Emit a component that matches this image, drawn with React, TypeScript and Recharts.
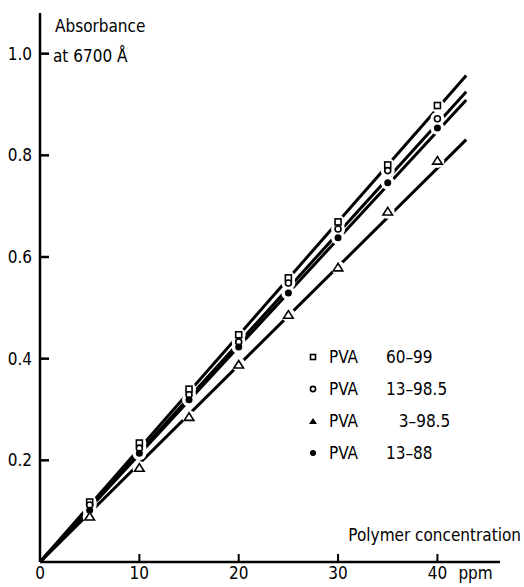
import { ScatterChart, Scatter, XAxis, YAxis, Legend, Label } from 'recharts';

// polymer concentration, ppm
const CONC = [5, 10, 15, 20, 25, 30, 35, 40];
// absorbance at 6700 Å
const PVA_60_99 = [0.118, 0.234, 0.34, 0.447, 0.559, 0.669, 0.781, 0.898];
const PVA_13_985 = [0.112, 0.224, 0.329, 0.433, 0.549, 0.655, 0.77, 0.872];
const PVA_3_985 = [0.089, 0.185, 0.285, 0.388, 0.486, 0.579, 0.689, 0.789];
const PVA_13_88 = [0.102, 0.214, 0.319, 0.423, 0.529, 0.638, 0.746, 0.854];

// fitted straight lines through the origin
const FIT_X = [0, 42.9];
const FIT_60_99 = [0, 0.957];
const FIT_13_985 = [0, 0.925];
const FIT_3_985 = [0, 0.831];
const FIT_13_88 = [0, 0.909];

const X_TICKS = [0, 10, 20, 30, 40];
const Y_TICKS = [0.2, 0.4, 0.6, 0.8, 1.0];

const FONT = "'DejaVu Sans Condensed', 'DejaVu Sans', sans-serif";

type Marker = 'square' | 'circle' | 'triangle' | 'dot';

const toPoints = (ys: number[]) => CONC.map((x, i) => ({ x, y: ys[i] }));
const toFit = (ys: number[]) => FIT_X.map((x, i) => ({ x, y: ys[i] }));

const SERIES: { name: string; label: string; marker: Marker; values: number[]; fit: number[] }[] = [
  { name: 'PVA 60-99', label: '60\u201399', marker: 'square', values: PVA_60_99, fit: FIT_60_99 },
  { name: 'PVA 13-98.5', label: '13\u201398.5', marker: 'circle', values: PVA_13_985, fit: FIT_13_985 },
  { name: 'PVA 3-98.5', label: '\u2007\u20093\u201398.5', marker: 'triangle', values: PVA_3_985, fit: FIT_3_985 },
  { name: 'PVA 13-88', label: '13\u201388', marker: 'dot', values: PVA_13_88, fit: FIT_13_88 },
];

function drawMarker(kind: Marker, cx: number, cy: number, s: number) {
  switch (kind) {
    case 'square':
      return <rect x={cx - s / 2} y={cy - s / 2} width={s} height={s} fill="#fff" stroke="#000" strokeWidth={1.6} />;
    case 'circle':
      return <circle cx={cx} cy={cy} r={s / 2} fill="#fff" stroke="#000" strokeWidth={1.6} />;
    case 'triangle': {
      const h = s * 0.9;
      return (
        <polygon
          points={`${cx},${cy - h * 0.6} ${cx - s * 0.6},${cy + h * 0.45} ${cx + s * 0.6},${cy + h * 0.45}`}
          fill="#fff"
          stroke="#000"
          strokeWidth={1.6}
        />
      );
    }
    default:
      return <circle cx={cx} cy={cy} r={s / 2 + 0.5} fill="#000" />;
  }
}

// tick marks point inward, so they are drawn here next to the label
const YTick = ({ x, y, payload }: any) => (
  <g>
    <line x1={x + 8} x2={x + 17} y1={y} y2={y} stroke="#000" strokeWidth={2.5} />
    <text x={x} y={y} dy={6} textAnchor="end" fontSize={17} fontFamily={FONT} fill="#000">
      {Number(payload.value).toFixed(1)}
    </text>
  </g>
);

const XTick = ({ x, y, payload }: any) => (
  <g>
    {payload.value !== 0 && <line x1={x} x2={x} y1={y} y2={y - 8} stroke="#000" strokeWidth={2} />}
    <text x={x} y={y} dy={17} textAnchor="middle" fontSize={17} fontFamily={FONT} fill="#000">
      {payload.value}
    </text>
    {payload.value === 40 && (
      <text x={x + 21} y={y} dy={17} textAnchor="start" fontSize={17} fontFamily={FONT} fill="#000">
        ppm
      </text>
    )}
  </g>
);

const renderLegend = () => (
  <div style={{ fontFamily: FONT, fontSize: 17, color: '#000' }}>
    {SERIES.map((s) => (
      <div key={s.name} style={{ display: 'flex', alignItems: 'center', height: 32 }}>
        <svg width={12} height={12} style={{ marginRight: 10 }}>
          {s.marker === 'triangle' ? (
            <polygon points="6,3 2,9 10,9" fill="#000" />
          ) : s.marker === 'dot' ? (
            <circle cx={6} cy={6} r={3} fill="#000" />
          ) : s.marker === 'circle' ? (
            <circle cx={6} cy={6} r={2.6} fill="#fff" stroke="#000" strokeWidth={1.6} />
          ) : (
            <rect x={3.5} y={3.5} width={5} height={5} fill="#fff" stroke="#000" strokeWidth={1.6} />
          )}
        </svg>
        <span style={{ width: 57 }}>PVA</span>
        <span style={{ whiteSpace: 'pre' }}>{s.label}</span>
      </div>
    ))}
  </div>
);

export default function App() {
  return (
    <div style={{ position: 'absolute', left: 0, top: 0, background: '#fff' }}>
      <ScatterChart width={524} height={587} margin={{ top: 13, right: 24, bottom: 0, left: 0 }}>
        <XAxis
          type="number"
          dataKey="x"
          domain={[0, 46.3]}
          ticks={X_TICKS}
          height={25}
          tick={<XTick />}
          tickSize={0}
          tickMargin={0}
          tickLine={false}
          axisLine={{ stroke: '#000', strokeWidth: 2.5 }}
          allowDataOverflow
        >
          <Label
            content={() => (
              <text x={521} y={541} textAnchor="end" fontSize={17} fontFamily={FONT} fill="#000">
                Polymer concentration
              </text>
            )}
          />
        </XAxis>
        <YAxis
          type="number"
          dataKey="y"
          domain={[0, 1.08]}
          ticks={Y_TICKS}
          width={40}
          tick={<YTick />}
          tickSize={0}
          tickMargin={8}
          tickLine={false}
          axisLine={{ stroke: '#000', strokeWidth: 2.5 }}
          allowDataOverflow
        >
          <Label
            content={() => (
              <g fontSize={17} fontFamily={FONT} fill="#000">
                <text x={55} y={32}>Absorbance</text>
                <text x={53} y={62}>at 6700 Å</text>
              </g>
            )}
          />
        </YAxis>
        <Legend
          layout="vertical"
          verticalAlign="middle"
          align="center"
          content={renderLegend}
          wrapperStyle={{ left: 307, top: 341, width: 200 }}
        />
        {SERIES.map((s) => (
          <Scatter
            key={`fit-${s.name}`}
            data={toFit(s.fit)}
            line={{ stroke: '#000', strokeWidth: 3 }}
            shape={() => <g />}
            legendType="none"
            isAnimationActive={false}
          />
        ))}
        {SERIES.map((s) => (
          <Scatter
            key={`halo-${s.name}`}
            data={toPoints(s.values)}
            shape={(p: any) => <circle cx={p.cx} cy={p.cy} r={7} fill="#fff" />}
            legendType="none"
            isAnimationActive={false}
          />
        ))}
        {SERIES.map((s) => (
          <Scatter
            key={s.name}
            name={s.name}
            data={toPoints(s.values)}
            shape={(p: any) => drawMarker(s.marker, p.cx, p.cy, s.marker === 'triangle' ? 8 : 6)}
            isAnimationActive={false}
          />
        ))}
      </ScatterChart>
    </div>
  );
}
